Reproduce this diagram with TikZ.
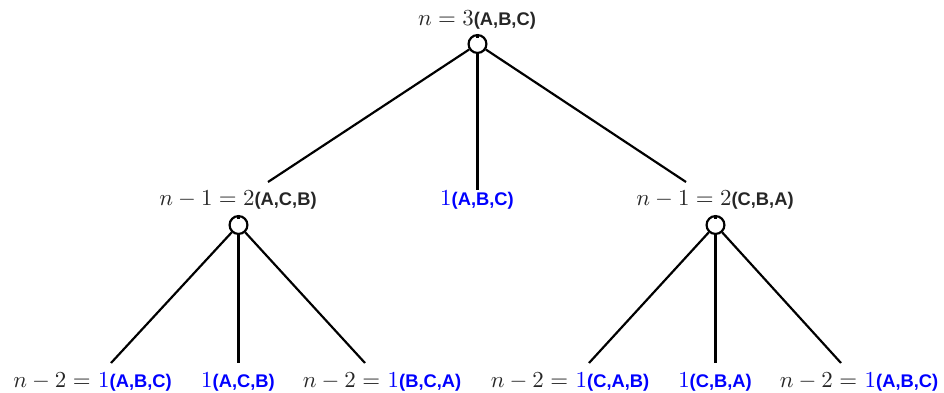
\documentclass[tikz,border=0pt]{standalone}
\usepackage{amsmath}
\usepackage{xcolor}
\usepackage{fontspec}
\newfontfamily\seqfont{Liberation Sans}
\usepackage{tikz}
\usetikzlibrary{positioning}

\newcommand{\perm}[1]{{\seqfont\bfseries\footnotesize #1}}

\begin{document}
\begin{tikzpicture}[
    x=0.4367pt, y=-0.4367pt,
    lab/.style={anchor=base, inner sep=0pt, text=black!85},
    leaf/.style={lab, text=blue},
    knot/.style={draw, circle, fill=white, minimum size=7.8pt, inner sep=0pt, line width=0.95pt},
    edge/.style={line width=0.95pt},
]
\useasboundingbox (0,0) rectangle (944,392);

% Root
\node[lab] (t0) at (477,25) {$n=3$\perm{(A,B,C)}};
\node[knot] (c0) at (477.5,44) {};

% Second level
\node[lab] (t1) at (238,205) {$n-1=2$\perm{(A,C,B)}};
\node[leaf] (t2) at (477,205) {$1$\perm{(A,B,C)}};
\node[lab] (t3) at (715,205) {$n-1=2$\perm{(C,B,A)}};
\node[knot] (c1) at (238.5,225) {};
\node[knot] (c3) at (715.5,225) {};

% Leaves
\node[lab] (l1) at (92.5,387) {$n-2=$ \textcolor{blue}{$1$\perm{(A,B,C)}}};
\node[leaf] (l2) at (238,387) {$1$\perm{(A,C,B)}};
\node[lab] (l3) at (382,387) {$n-2=$ \textcolor{blue}{$1$\perm{(B,C,A)}}};
\node[lab] (l4) at (570,387) {$n-2=$ \textcolor{blue}{$1$\perm{(C,A,B)}}};
\node[leaf] (l5) at (715,387) {$1$\perm{(C,B,A)}};
\node[lab] (l6) at (859,387) {$n-2=$ \textcolor{blue}{$1$\perm{(A,B,C)}}};

% Line ends
\coordinate (e1) at (268,182);
\coordinate (e2) at (477.5,190);
\coordinate (e3) at (686,182);
\coordinate (f1) at (111,363);
\coordinate (f2) at (238.5,363);
\coordinate (f3) at (365,363);
\coordinate (f4) at (589,363);
\coordinate (f5) at (715.5,363);
\coordinate (f6) at (841,363);

% Branches
\draw[edge] (c0) -- (e1);
\draw[edge] (c0) -- (e2);
\draw[edge] (c0) -- (e3);
\draw[edge] (c1) -- (f1);
\draw[edge] (c1) -- (f2);
\draw[edge] (c1) -- (f3);
\draw[edge] (c3) -- (f4);
\draw[edge] (c3) -- (f5);
\draw[edge] (c3) -- (f6);

% Ticks on top of the circles
\foreach \c in {c0,c1,c3}
    \draw[edge] (\c.north) -- ++(0,4);
\end{tikzpicture}
\end{document}
